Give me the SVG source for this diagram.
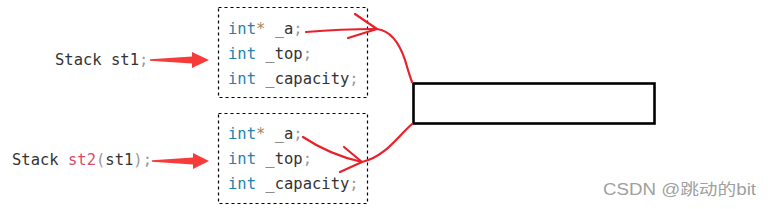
<svg xmlns="http://www.w3.org/2000/svg" width="773" height="209" viewBox="0 0 773 209">
<style>
.code{font-family:"DejaVu Sans Mono","Liberation Mono",monospace;font-size:15.5px;fill:#333}
.kw{fill:#1f7fae}
.op{fill:#a8855c}
.pu{fill:#999}
.fn{fill:#dd4a68}
.box{fill:none;stroke:#000;stroke-width:1.2;stroke-dasharray:3 3}
.red{fill:none;stroke:#e8212a;stroke-width:2.2;stroke-linecap:round;stroke-linejoin:round}
.blk{fill:#f63b3b}
.wm{font-family:"Liberation Sans","Noto Sans CJK SC",sans-serif;font-size:16px;fill:#a0a0a0}
</style>
<rect width="773" height="209" fill="#fff"/>
<g id="label-st1"><text class="code" x="55" y="65">Stack st1<tspan class="pu">;</tspan></text></g>
<g id="label-st2"><text class="code" x="12" y="165">Stack <tspan class="fn">st2</tspan><tspan class="pu">(</tspan>st1<tspan class="pu">);</tspan></text></g>
<g id="st1">
<rect class="box" x="218.5" y="7.5" width="149" height="90"/>
<text class="code" x="228" y="34"><tspan class="kw">int</tspan><tspan class="op">*</tspan> _a<tspan class="pu">;</tspan></text>
<text class="code" x="228" y="59"><tspan class="kw">int</tspan> _top<tspan class="pu">;</tspan></text>
<text class="code" x="228" y="84"><tspan class="kw">int</tspan> _capacity<tspan class="pu">;</tspan></text>
</g>
<g id="st2">
<rect class="box" x="218.5" y="113.5" width="149" height="90"/>
<text class="code" x="228" y="139"><tspan class="kw">int</tspan><tspan class="op">*</tspan> _a<tspan class="pu">;</tspan></text>
<text class="code" x="228" y="164"><tspan class="kw">int</tspan> _top<tspan class="pu">;</tspan></text>
<text class="code" x="228" y="189"><tspan class="kw">int</tspan> _capacity<tspan class="pu">;</tspan></text>
</g>
<g id="heap"><rect x="413.5" y="83.5" width="241" height="40" fill="#fff" stroke="#000" stroke-width="2.6"/></g>
<g id="connectors">
<polygon class="blk" points="150,59.3 192,56.5 192,52 209,60 192,68 192,63.5 150,60.8"/>
<polygon class="blk" points="152,160.3 193,157.5 193,153 209,161 193,169 193,164.5 152,161.8"/>
<path class="red" d="M306,32 Q340,29 377,29"/>
<path class="red" d="M355,14 L377,29 L348,38"/>
<path class="red" d="M377,29 C393,31 401,48 405,60 C408,70 410,77 412,82"/>
<path class="red" d="M303,137 Q330,155 362,162"/>
<path class="red" d="M344,147 L362,162 L340,172"/>
<path class="red" d="M362,162 C385,157 398,136 412,124"/>
</g>
<text class="wm" x="603" y="195" textLength="153" lengthAdjust="spacingAndGlyphs">CSDN @跳动的bit</text>
</svg>
